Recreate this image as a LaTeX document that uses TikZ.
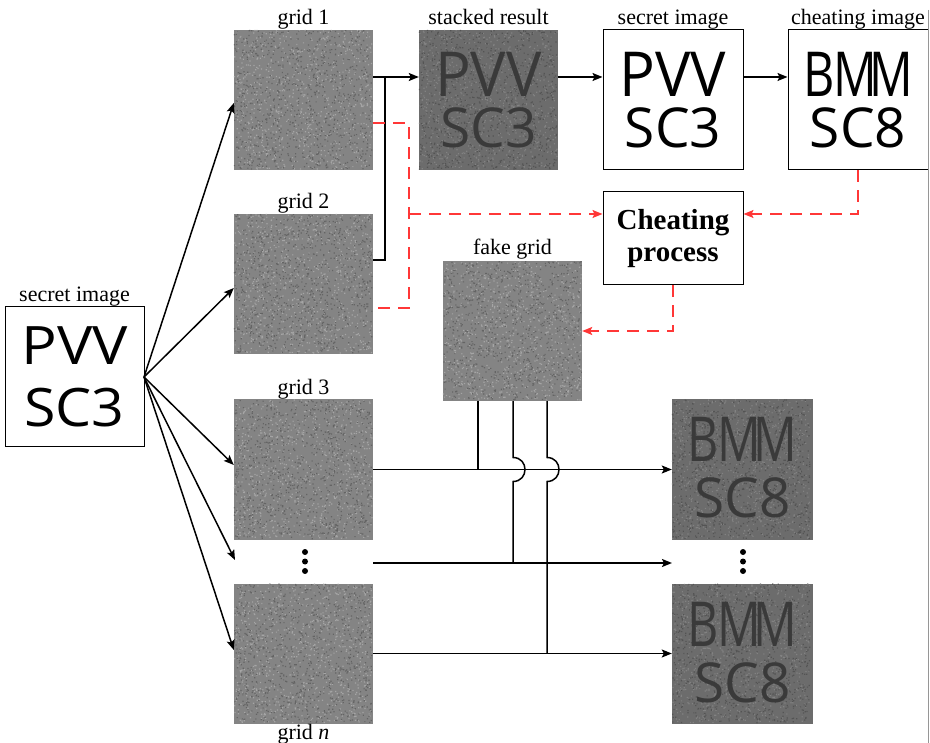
\documentclass[tikz,border=0pt]{standalone}
\usepackage{fontspec}
\usepackage{graphicx}
\setmainfont{Liberation Serif}
\newfontfamily\bigsans{Open Sans}
\usetikzlibrary{arrows.meta,calc}
\definecolor{noisegray}{RGB}{132,132,132}
\definecolor{darknoise}{RGB}{108,108,108}
\definecolor{speckhi}{RGB}{165,165,165}
\definecolor{specklo}{RGB}{100,100,100}
\definecolor{dspeckhi}{RGB}{130,130,130}
\definecolor{dspecklo}{RGB}{84,84,84}
\definecolor{ghost}{RGB}{58,58,58}
\definecolor{cred}{RGB}{255,55,55}
\definecolor{framegray}{RGB}{150,150,150}
\newcommand\mkspecks[3]{% node, light colour, dark colour
  \begin{scope}[shift={(#1.north west)}]
    \fill[#2] \foreach \k in {1,...,900}{ ({rnd*137.8},{rnd*138.8}) rectangle ++(1.2,1.2) };
    \fill[#3] \foreach \k in {1,...,900}{ ({rnd*137.8},{rnd*138.8}) rectangle ++(1.2,1.2) };
  \end{scope}}
\begin{document}
\begin{tikzpicture}[x=1pt,y=-1pt,
  whitebox/.style={draw=black,line width=1pt,fill=white,minimum width=139pt,minimum height=140pt,inner sep=0pt},
  noisebox/.style={fill=noisegray,minimum width=139pt,minimum height=140pt,inner sep=0pt},
  darkbox/.style={fill=darknoise,minimum width=139pt,minimum height=140pt,inner sep=0pt},
  lab/.style={font=\fontsize{22}{24}\selectfont,anchor=base,inner sep=0pt},
  lineA/.style={font=\bigsans\fontsize{62}{62}\selectfont,anchor=base,inner sep=0pt,text height=44pt,text depth=0pt},
  lineB/.style={font=\bigsans\fontsize{55}{55}\selectfont,anchor=base,inner sep=0pt,text height=39pt,text depth=0pt},
  lineS/.style={font=\bigsans\fontsize{53}{53}\selectfont,anchor=base,inner sep=0pt,text height=38pt,text depth=0pt},
  ln/.style={line width=1.5pt},
  arr/.style={line width=1.5pt,-{Stealth[length=10pt,width=8pt,inset=2pt]}},
  cheat/.style={draw=cred,line width=1.4pt,dash pattern=on 12pt off 8pt},
  carr/.style={cheat,-{Stealth[length=10pt,width=8pt,inset=2pt,fill=cred]}},
  dot/.style={circle,fill=black,inner sep=0pt,minimum size=6pt}
]
\useasboundingbox (0,0) rectangle (930,743);
\pgfmathsetseed{4242}

% boxes
\node[whitebox] (src) at (74.5,377) {};
\node[noisebox] (g1) at (303.5,100) {};
\node[noisebox] (g2) at (303.5,284) {};
\node[noisebox] (g3) at (303.5,469.5) {};
\node[noisebox] (gn) at (303.5,653.5) {};
\node[darkbox] (stk) at (488.5,100) {};
\node[whitebox,minimum width=140pt] (sec2) at (673,100) {};
\node[whitebox,minimum width=140pt] (cht) at (858,100) {};
\node[noisebox] (fake) at (512.5,331) {};
\node[darkbox,minimum width=141pt] (r1) at (742.5,469.5) {};
\node[darkbox,minimum width=141pt] (r2) at (742.5,653.5) {};
\node[draw=black,line width=1pt,fill=white,minimum width=140pt,minimum height=93pt,inner sep=0pt,
      align=center,font=\bfseries\fontsize{29}{32}\selectfont] (proc) at (673,238.5) {Cheating\\process};

% noise texture
\mkspecks{g1}{speckhi}{specklo}
\mkspecks{g2}{speckhi}{specklo}
\mkspecks{g3}{speckhi}{specklo}
\mkspecks{gn}{speckhi}{specklo}
\mkspecks{fake}{speckhi}{specklo}
\mkspecks{stk}{dspeckhi}{dspecklo}
\mkspecks{r1}{dspeckhi}{dspecklo}
\mkspecks{r2}{dspeckhi}{dspecklo}

% texts inside boxes
\node[lineS] (srcA) at (74.5,365) {\scalebox{1.12}[1]{PVV}};
\node[lineS] (srcB) at (74.5,427) {\scalebox{1.08}[1]{SC3}};
\node[lineA,text=ghost] (stkA) at (488.5,97) {\scalebox{0.96}[1]{PVV}};
\node[lineB,text=ghost] (stkB) at (488.5,148) {SC3};
\node[lineA] (secA) at (673,97) {\scalebox{0.96}[1]{PVV}};
\node[lineB] (secB) at (673,148) {SC3};
\node[lineA] (chtA) at (858,97) {\scalebox{0.78}[1]{B\kern-2pt M\kern-10pt M}};
\node[lineB] (chtB) at (858,148) {SC8};
\node[lineA,text=ghost] (r1A) at (742.5,462) {\scalebox{0.78}[1]{B\kern-2pt M\kern-10pt M}};
\node[lineB,text=ghost] (r1B) at (742.5,518) {SC8};
\node[lineA,text=ghost] (r2A) at (742.5,646) {\scalebox{0.78}[1]{B\kern-2pt M\kern-10pt M}};
\node[lineB,text=ghost] (r2B) at (742.5,702) {SC8};

% labels
\node[lab] (lsrc) at (74.5,302) {secret image};
\node[lab] (lg1) at (303.5,25) {grid 1};
\node[lab] (lg2) at (303.5,209) {grid 2};
\node[lab] (lg3) at (303.5,395) {grid 3};
\node[lab] (lgn) at (303.5,739) {grid \textit{n}};
\node[lab] (lstk) at (488.5,25) {stacked result};
\node[lab] (lsec) at (673,25) {secret image};
\node[lab] (lcht) at (858,25) {cheating image};
\node[lab] (lfake) at (512.5,255) {fake grid};

% dots
\node[dot] (d1) at (305,552) {};
\node[dot] (d2) at (305,561.5) {};
\node[dot] (d3) at (305,571) {};
\node[dot] (e1) at (743,552) {};
\node[dot] (e2) at (743,561.5) {};
\node[dot] (e3) at (743,571) {};

% fan-out arrows
\coordinate (hub) at (144,377);
\coordinate (dotL) at (235,560);
\draw[arr] (hub) -- ([yshift=-3pt]g1.west);
\draw[arr] (hub) -- ([yshift=-4pt]g2.west);
\draw[arr] (hub) -- ([yshift=4.5pt]g3.west);
\draw[arr] (hub) -- (dotL);
\draw[arr] (hub) -- ([yshift=3.5pt]gn.west);

% stacking
\coordinate (j1) at (385,77);
\draw[arr] ([yshift=23pt]g1.east) -- ([yshift=23pt]stk.west);
\draw[ln] ([yshift=24pt]g2.east) -| (j1);
\draw[arr] ([yshift=23pt]stk.east) -- ([yshift=23pt]sec2.west);
\draw[arr] ([yshift=23pt]sec2.east) -- ([yshift=23pt]cht.west);

% cheating (red dashed)
\coordinate (ra) at (409,123);
\coordinate (rb) at (409,308);
\coordinate (rc) at (409,214);
\draw[cheat] ([yshift=-23pt]g1.east) -- (ra) -- (rb) -- ([yshift=-24pt]g2.east);
\draw[carr] (rc) -- (rc -| proc.west);
\draw[carr] (cht.south) |- (rc -| proc.east);
\draw[carr] (proc.south) |- (fake.east);

% bottom rows
\coordinate (dL) at (373,563);
\coordinate (dR) at (672,563);
\draw[arr] (g3.east) -- (r1.west);
\draw[arr] (dL) -- (dR);
\draw[arr] (gn.east) -- (r2.west);

% fake grid distribution
\coordinate (fa) at ([xshift=-34.5pt]fake.south);
\coordinate (fb) at ([xshift=0.5pt]fake.south);
\coordinate (fc) at ([xshift=34.5pt]fake.south);
\draw[ln] (fa) -- (fa |- g3.east);
\draw[ln] (fb) -- ($(fb |- g3.east)+(0,-12)$) .. controls +(16,0) and +(16,0) .. ($(fb |- g3.east)+(0,12)$) -- (fb |- dL);
\draw[ln] (fc) -- ($(fc |- g3.east)+(0,-12)$) .. controls +(16,0) and +(16,0) .. ($(fc |- g3.east)+(0,12)$) -- (fc |- gn.east);

% right frame edge
\draw[framegray,line width=1pt] (928.5,10) -- (928.5,743);
\end{tikzpicture}
\end{document}
